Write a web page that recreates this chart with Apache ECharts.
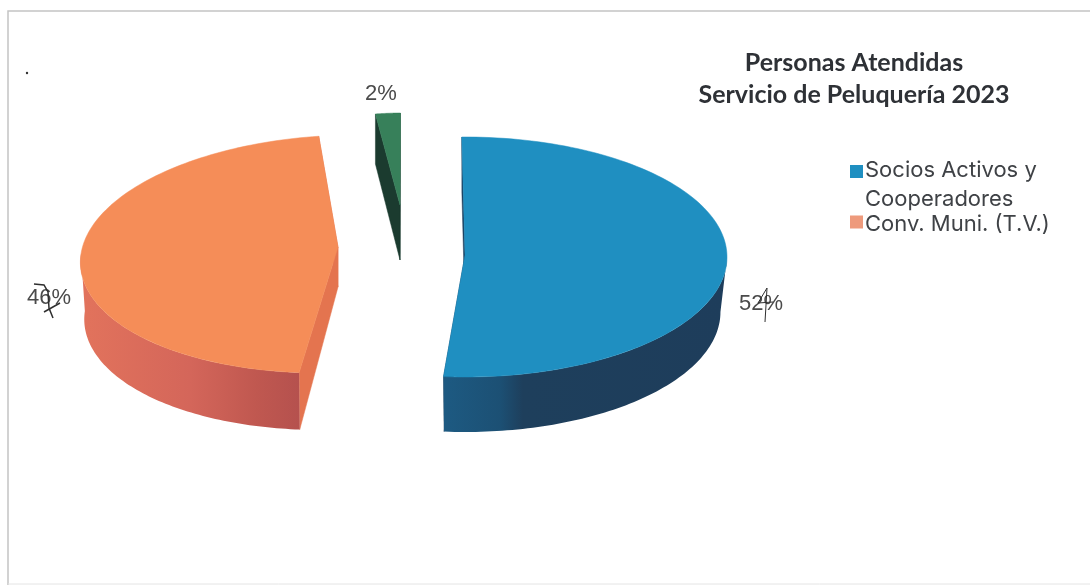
<!DOCTYPE html>
<html><head><meta charset="utf-8">
<style>html,body{margin:0;padding:0;background:#fff}#c{width:1090px;height:585px}</style>
<script src="https://cdn.jsdelivr.net/npm/echarts@6/dist/echarts.min.js"></script>
</head><body><div id="c"></div>
<script>
// ---- data ----
const categories = ['Socios Activos y\nCooperadores', 'Conv. Muni. (T.V.)', 'Otros'];
const values = [51.5, 46.4, 2.1];
const titleLines = ['Personas Atendidas', 'Servicio de Peluquería 2023'];

// ---- layout / style ----
const startAngle = -0.7;
const slices = [
  {cx:465,cy:257,rx:262,ry:120,lean:0,tipDy:-2,depth:55,tipDepth:55,wallX:.975,
   top:'#1F8FC1',face:'#1B3F5E',wall:[[0,'#1D5A82'],[.2,'#1C5074'],[.28,'#1E3F5C'],[1,'#1E3D5B']],
   lx:761,ly:304},
  {cx:338,cy:254,rx:257,ry:119,lean:-.15,tipDy:-7,depth:57,tipDepth:40,wallX:.985,
   top:'#F58D58',face:'#E4744F',wall:[[0,'#E2735C'],[.5,'#D4665A'],[.8,'#C05850'],[1,'#B5514E']],
   lx:49,ly:298},
  {cx:400,cy:205,rx:190,ry:92,lean:-.03,tipDy:0,depth:50,tipDepth:55,wallX:1,
   top:'#37805A',face:'#1B3B2F',wall:[[0,'#1B3B2F'],[1,'#1B3B2F']],
   lx:381,ly:94}
];
const legendSwatch = ['#1F8FC1', '#EE9A7C'];
const total = values.reduce((a,b)=>a+b,0);
const angleStarts = [];
values.reduce((acc,v)=>{angleStarts.push(acc);return acc+v/total*360;},startAngle);

function pt(s,deg){
  const t=deg*Math.PI/180, dy=-s.ry*Math.cos(t);
  return [s.cx+s.rx*Math.sin(t)+s.lean*dy, s.cy+dy];
}
function renderSlice(params){
  const i=params.seriesIndex, s=slices[i], v=values[i];
  const a0=angleStarts[i], a1=a0+v/total*360;
  const tip=[s.cx,s.cy+s.tipDy], p0=pt(s,a0), p1=pt(s,a1);
  const drop=p=>[s.cx+(p[0]-s.cx)*s.wallX,p[1]+s.depth];
  const tipLow=[tip[0],tip[1]+s.tipDepth];
  const kids=[];
  const poly=(points,fill)=>kids.push({type:'polygon',shape:{points},style:{fill,stroke:fill,lineWidth:.5}});
  poly([p0,drop(p0),tipLow,tip],s.face);
  poly([p1,drop(p1),tipLow,tip],s.face);
  // outer wall: front half only
  const w0=Math.max(a0,90), w1=Math.min(a1,270);
  if(w1>w0){
    const up=[],lo=[];
    for(let k=0;k<=80;k++){const p=pt(s,w0+(w1-w0)*k/80);up.push(p);lo.push(drop(p));}
    kids.push({type:'polygon',shape:{points:up.concat(lo.reverse())},style:{
      fill:new echarts.graphic.LinearGradient(0,0,1,0,s.wall.map(c=>({offset:c[0],color:c[1]})))
    }});
  }
  // top face
  const pts=[tip];
  for(let k=0;k<=120;k++)pts.push(pt(s,a0+(a1-a0)*k/120));
  poly(pts,s.top);
  kids.push({type:'text',style:{text:Math.round(v)+'%',x:s.lx,y:s.ly,align:'center',verticalAlign:'middle',
    font:'22px "Liberation Sans"',fill:'#4a4a4a'}});
  return {type:'group',children:kids};
}

const series = categories.map((name,i)=>({
  type:'custom',name,coordinateSystem:'none',silent:true,
  renderItem:renderSlice,data:[values[i]],itemStyle:{color:slices[i].top},animation:false
}));

const scribble=(points,w)=>({type:'polyline',z:100,shape:{points},style:{stroke:'#2f2f2f',fill:null,lineWidth:w||1.5}});
const chart=echarts.init(document.getElementById('c'),null,{renderer:'canvas'});
chart.setOption({
  animation:false,backgroundColor:'#fff',
  title:{text:titleLines.join('\n'),left:849,top:42,textAlign:'center',
    textStyle:{fontFamily:'Lato',fontWeight:'bold',fontSize:25,lineHeight:32,color:'#2e3136'}},
  legend:[
    {left:845,top:151,orient:'vertical',itemWidth:13,itemHeight:40,itemGap:0,selectedMode:false,
     data:[{name:categories[0],icon:'path://M0,0H13V13H0ZM0,40H13V40H0Z',itemStyle:{color:legendSwatch[0]}}],
     textStyle:{fontFamily:'Inter',fontSize:22,lineHeight:29,color:'#3f4246',padding:[0,0,0,-3]}},
    {left:845,top:208,orient:'vertical',itemWidth:13,itemHeight:17,selectedMode:false,
     data:[{name:categories[1],icon:'path://M0,0H13V13H0ZM0,17H13V17H0Z',itemStyle:{color:legendSwatch[1]}}],
     textStyle:{fontFamily:'Inter',fontSize:22,color:'#3f4246',padding:[0,0,0,-3]}}
  ],
  graphic:[
    {type:'polyline',shape:{points:[[8,585],[8,11],[1090,11]]},style:{stroke:'#c4c4c4',fill:null,lineWidth:1.5}},
    {type:'line',shape:{x1:8,y1:584,x2:1090,y2:584},style:{stroke:'#e4e4e4',lineWidth:1}},
    {type:'circle',shape:{cx:27,cy:73,r:1.2},style:{fill:'#333'}},
    scribble([[34,284],[44,285],[48,292],[49,308],[53,318]]),
    scribble([[44,312],[60,303]]),
    scribble([[767,288],[758,303],[773,302]],1),
    scribble([[767,288],[765,322]],1)
  ],
  series
});
</script></body></html>
